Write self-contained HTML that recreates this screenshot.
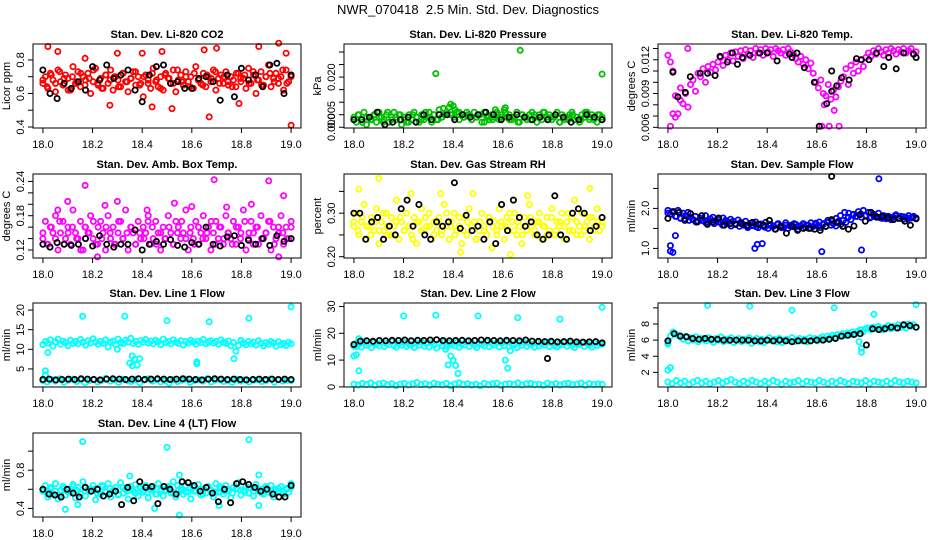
<!DOCTYPE html>
<html><head><meta charset="utf-8"><title>NWR_070418 Diagnostics</title>
<style>
html,body{margin:0;padding:0;background:#fff;}
svg{display:block;font-family:"Liberation Sans",Arial,sans-serif;}
</style></head>
<body>
<svg id="chart" width="936" height="540" viewBox="0 0 936 540" xmlns="http://www.w3.org/2000/svg">
<rect x="0" y="0" width="936" height="540" fill="#fff"/>
<text x="468" y="14" text-anchor="middle" font-size="13" xml:space="preserve">NWR_070418  2.5 Min. Std. Dev. Diagnostics</text>
</svg>
<script>
// ---- shared x axis ----
const xTicks = [18.0, 18.2, 18.4, 18.6, 18.8, 19.0];
const xTickLabels = ["18.0", "18.2", "18.4", "18.6", "18.8", "19.0"];

// ---- Panel 1: CO2 ----
const co2Main = [0.66,0.70,0.63,0.72,0.68,0.61,0.74,0.67,0.65,0.71,0.69,0.62,0.76,0.66,0.73,0.64,0.70,0.68,0.72,0.60,0.67,0.75,0.65,0.69,0.63,0.71,0.66,0.74,0.62,0.70,0.68,0.64,0.72,0.67,0.61,0.69,0.73,0.65,0.70,0.66,0.58,0.71,0.68,0.63,0.75,0.67,0.64,0.70,0.62,0.72,0.69,0.66,0.74,0.61,0.68,0.71,0.65,0.73,0.67,0.70,0.63,0.76,0.68,0.66,0.72,0.64,0.70,0.67,0.74,0.62,0.69,0.71,0.66,0.73,0.65,0.70,0.68,0.64,0.72,0.67,0.69,0.63,0.75,0.66,0.71,0.60,0.68,0.73,0.65,0.70,0.77,0.64,0.69,0.72,0.66,0.70,0.62,0.74,0.67,0.71];
const co2Main2 = [0.68,0.64,0.71,0.66,0.73,0.69,0.62,0.70,0.67,0.72,0.65,0.69,0.74,0.66,0.63,0.71,0.68,0.70,0.64,0.72,0.67,0.69,0.73,0.65,0.70,0.66,0.72,0.68,0.63,0.71,0.69,0.66,0.74,0.67,0.70,0.64,0.72,0.68,0.65,0.71,0.69,0.73,0.66,0.70,0.67,0.64,0.72,0.69,0.71,0.66,0.73,0.68,0.65,0.70,0.72,0.67,0.69,0.74,0.66,0.70];
const co2OutX = [18.02,18.06,18.27,18.44,18.52,18.67,18.87,18.95,19.0,18.48,18.65,18.79,18.70,18.40,18.17,18.30,18.98];
const co2OutY = [0.88,0.85,0.53,0.52,0.51,0.46,0.88,0.90,0.41,0.85,0.86,0.54,0.87,0.84,0.81,0.84,0.84];
const co2Black = [0.74,0.60,0.57,0.66,0.63,0.67,0.62,0.76,0.68,0.77,0.69,0.71,0.74,0.62,0.55,0.71,0.76,0.77,0.66,0.67,0.63,0.63,0.69,0.70,0.67,0.56,0.71,0.58,0.75,0.68,0.71,0.64,0.77,0.78,0.60,0.71];

// ---- Panel 2: Pressure ----
const presMain = [0.004,0.002,0.005,0.003,0.006,0.001,0.004,0.003,0.005,0.002,0.006,0.004,0.003,0.005,0.002,0.004,0.006,0.003,0.005,0.001,0.004,0.002,0.005,0.003,0.006,0.004,0.002,0.005,0.003,0.004,0.006,0.002,0.005,0.003,0.007,0.004,0.005,0.006,0.008,0.005,0.004,0.006,0.003,0.005,0.004,0.006,0.005,0.003,0.006,0.004,0.005,0.002,0.006,0.004,0.003,0.005,0.004,0.006,0.003,0.005,0.007,0.004,0.005,0.003,0.004,0.006,0.002,0.005,0.004,0.003,0.005,0.006,0.004,0.002,0.005,0.003,0.006,0.004,0.005,0.003,0.004,0.006,0.002,0.005,0.003,0.004,0.005,0.006,0.003,0.004,0.002,0.005,0.004,0.006,0.003,0.005,0.004,0.002,0.005,0.003];
const presMain2 = [0.003,0.005,0.002,0.004,0.003,0.005,0.004,0.002,0.006,0.003,0.004,0.005,0.003,0.002,0.005,0.004,0.003,0.006,0.004,0.005,0.003,0.004,0.006,0.005,0.007,0.006,0.004,0.005,0.003,0.004,0.005,0.002,0.004,0.003,0.005,0.004,0.006,0.003,0.004,0.002,0.005,0.004,0.003,0.005,0.004,0.006,0.003,0.004,0.005,0.002,0.004,0.003,0.005,0.004,0.003,0.006,0.004,0.003,0.005,0.004];
const presOutX = [18.33,18.67,19.0,18.39,18.40,18.61,18.57,18.36];
const presOutY = [0.0214,0.0307,0.0212,0.0092,0.0085,0.0078,0.0070,0.0075];
const presBlack = [0.003,0.003,0.004,0.006,0.001,0.002,0.003,0.004,0.002,0.005,0.003,0.005,0.005,0.003,0.005,0.004,0.005,0.006,0.005,0.003,0.004,0.005,0.004,0.003,0.004,0.003,0.005,0.004,0.002,0.003,0.005,0.004,0.003];

// ---- Panel 3: Li-820 Temp ----
const tempMain = [0.0124,0.0118,0.0110,0.0088,0.0072,0.0095,0.0081,0.0090,0.0078,0.0098,0.0102,0.0092,0.0108,0.0105,0.0112,0.0100,0.0114,0.0109,0.0116,0.0111,0.0118,0.0122,0.0115,0.0124,0.0120,0.0126,0.0119,0.0127,0.0123,0.0128,0.0121,0.0129,0.0125,0.0128,0.0122,0.0130,0.0126,0.0129,0.0124,0.0130,0.0127,0.0129,0.0123,0.0130,0.0128,0.0126,0.0129,0.0124,0.0130,0.0127,0.0125,0.0121,0.0118,0.0123,0.0116,0.0120,0.0112,0.0117,0.0108,0.0100,0.0095,0.0102,0.0090,0.0088,0.0098,0.0085,0.0093,0.0087,0.0096,0.0101,0.0105,0.0112,0.0098,0.0115,0.0108,0.0118,0.0110,0.0120,0.0114,0.0122,0.0126,0.0123,0.0128,0.0125,0.0130,0.0127,0.0124,0.0129,0.0126,0.0130,0.0128,0.0125,0.0129,0.0127,0.0130,0.0126,0.0128,0.0130,0.0125,0.0127];
const tempOutX = [18.01,18.02,18.62,18.65,18.69,18.67,18.63,18.08,18.05,18.03];
const tempOutY = [0.0061,0.0072,0.0061,0.0061,0.0061,0.0075,0.0080,0.0130,0.0084,0.0069];
const tempBlackX = [18.02,18.04,18.07,18.09,18.13,18.16,18.19,18.21,18.24,18.26,18.28,18.30,18.33,18.37,18.40,18.44,18.49,18.50,18.52,18.55,18.59,18.61,18.64,18.66,18.66,18.68,18.70,18.73,18.76,18.78,18.81,18.84,18.87,18.89,18.92,18.95,18.99,19.0];
const tempBlackY = [0.0109,0.0087,0.0091,0.0105,0.0108,0.0108,0.0106,0.0123,0.0118,0.0126,0.0116,0.0122,0.0124,0.0126,0.0126,0.0119,0.0125,0.0122,0.0126,0.0113,0.0100,0.0061,0.0081,0.0110,0.0092,0.0097,0.0104,0.0102,0.0121,0.0120,0.0120,0.0126,0.0114,0.0122,0.0112,0.0126,0.0125,0.0122];

// ---- Panel 4: Amb. Box Temp ----
const ambMain = [0.14,0.17,0.13,0.16,0.15,0.18,0.12,0.15,0.17,0.14,0.16,0.13,0.19,0.15,0.14,0.17,0.12,0.16,0.15,0.18,0.14,0.13,0.16,0.17,0.15,0.12,0.18,0.14,0.16,0.13,0.15,0.17,0.14,0.19,0.12,0.16,0.15,0.13,0.17,0.14,0.16,0.15,0.18,0.13,0.14,0.17,0.15,0.12,0.16,0.14,0.18,0.15,0.13,0.17,0.16,0.14,0.15,0.19,0.12,0.16,0.14,0.17,0.13,0.15,0.18,0.14,0.16,0.12,0.15,0.17,0.14,0.16,0.13,0.18,0.15,0.14,0.17,0.13,0.16,0.15,0.19,0.12,0.14,0.17,0.15,0.16,0.13,0.18,0.14,0.15,0.17,0.12,0.16,0.14,0.15,0.18,0.13,0.16,0.14,0.17];
const ambMain2 = [0.15,0.13,0.16,0.14,0.17,0.13,0.15,0.16,0.14,0.12,0.16,0.15,0.17,0.13,0.14,0.16,0.15,0.13,0.17,0.14,0.15,0.16,0.13,0.15,0.14,0.17,0.16,0.13,0.15,0.14,0.16,0.13,0.15,0.17,0.14,0.15,0.13,0.16,0.14,0.15,0.17,0.13,0.16,0.14,0.15,0.13,0.16,0.14,0.17,0.15,0.13,0.16,0.14,0.15,0.17,0.13,0.16,0.15,0.14,0.16];
const ambOutX = [18.17,18.69,18.91,18.22,18.95,18.10,18.30,18.53,18.97,18.60,18.74,18.42,18.06,18.84,18.25];
const ambOutY = [0.233,0.243,0.241,0.108,0.108,0.205,0.205,0.202,0.215,0.196,0.195,0.190,0.190,0.200,0.198];
const ambBlack = [0.130,0.125,0.133,0.130,0.128,0.130,0.140,0.127,0.145,0.130,0.125,0.130,0.130,0.155,0.120,0.130,0.135,0.130,0.138,0.128,0.125,0.133,0.130,0.160,0.130,0.127,0.143,0.145,0.128,0.137,0.130,0.140,0.128,0.145,0.135,0.140];

// ---- Panel 5: Gas Stream RH ----
const rhMain = [0.27,0.30,0.25,0.28,0.32,0.24,0.27,0.29,0.26,0.31,0.23,0.28,0.26,0.30,0.25,0.29,0.27,0.33,0.24,0.28,0.26,0.30,0.27,0.25,0.29,0.23,0.28,0.31,0.26,0.27,0.30,0.24,0.28,0.26,0.29,0.25,0.32,0.27,0.24,0.28,0.30,0.26,0.27,0.23,0.29,0.25,0.31,0.27,0.28,0.24,0.26,0.30,0.27,0.25,0.29,0.22,0.28,0.26,0.31,0.27,0.24,0.29,0.26,0.28,0.30,0.25,0.27,0.23,0.29,0.26,0.32,0.27,0.25,0.28,0.30,0.24,0.27,0.29,0.26,0.31,0.25,0.28,0.27,0.30,0.24,0.28,0.26,0.29,0.33,0.25,0.27,0.30,0.26,0.28,0.24,0.29,0.27,0.31,0.26,0.28];
const rhMain2 = [0.28,0.26,0.29,0.27,0.25,0.28,0.26,0.30,0.27,0.25,0.28,0.29,0.26,0.27,0.24,0.28,0.26,0.29,0.27,0.25,0.28,0.26,0.30,0.27,0.25,0.29,0.26,0.28,0.27,0.24,0.28,0.26,0.29,0.27,0.25,0.28,0.27,0.30,0.26,0.28,0.25,0.27,0.29,0.26,0.28,0.27,0.25,0.29,0.26,0.28,0.27,0.30,0.26,0.28,0.25,0.27,0.29,0.26,0.28,0.27];
const rhOutX = [18.10,18.02,18.95,18.43,18.63,18.35,18.48,18.70,18.23];
const rhOutY = [0.380,0.355,0.357,0.210,0.205,0.345,0.345,0.340,0.345];
const rhBlack = [0.30,0.30,0.24,0.28,0.29,0.24,0.27,0.25,0.31,0.33,0.27,0.32,0.25,0.24,0.28,0.27,0.28,0.37,0.265,0.295,0.26,0.27,0.24,0.28,0.23,0.32,0.26,0.33,0.29,0.27,0.28,0.25,0.24,0.25,0.34,0.25,0.24,0.30,0.31,0.30,0.26,0.27,0.29];

// ---- Panel 6: Sample Flow ----
const flowMain = [1.95,1.85,1.90,1.80,1.95,1.75,1.88,1.82,1.90,1.78,1.72,1.80,1.68,1.75,1.70,1.82,1.65,1.74,1.78,1.69,1.72,1.64,1.76,1.70,1.66,1.73,1.68,1.62,1.71,1.65,1.60,1.68,1.55,1.63,1.58,1.66,1.52,1.61,1.57,1.65,1.50,1.60,1.55,1.48,1.62,1.56,1.52,1.64,1.50,1.58,1.54,1.60,1.48,1.56,1.62,1.52,1.58,1.50,1.55,1.63,1.57,1.52,1.60,1.55,1.65,1.58,1.62,1.56,1.68,1.60,1.70,1.65,1.78,1.72,1.85,1.80,1.92,1.86,1.95,1.82,1.90,1.78,1.85,1.80,1.88,1.76,1.82,1.74,1.80,1.72,1.78,1.84,1.75,1.80,1.73,1.78,1.82,1.76,1.80,1.74];
const flowMain2 = [1.88,1.92,1.80,1.76,1.74,1.70,1.72,1.66,1.70,1.64,1.68,1.62,1.66,1.58,1.62,1.56,1.60,1.55,1.58,1.52,1.57,1.54,1.60,1.53,1.58,1.55,1.60,1.52,1.58,1.56,1.62,1.55,1.60,1.58,1.64,1.60,1.66,1.62,1.70,1.68,1.75,1.82,1.90,1.88,1.84,1.80,1.78,1.82,1.76,1.80,1.78,1.75,1.80,1.77,1.82,1.76,1.79,1.74,1.78,1.76];
const flowOutX = [18.01,18.02,18.03,18.35,18.38,18.62,18.78,18.85,18.01,18.36];
const flowOutY = [1.07,0.90,1.32,1.00,1.12,0.92,0.96,2.74,0.93,1.10];
const flowBlack = [1.75,1.92,1.90,1.70,1.87,1.66,1.82,1.60,1.66,1.76,1.58,1.62,1.60,1.62,1.58,1.65,1.60,1.58,1.70,1.48,1.55,1.38,1.56,1.45,1.50,1.50,1.48,1.45,1.55,1.72,1.65,1.55,1.48,1.56,1.84,1.68,1.90,1.78,1.80,1.76,1.72,1.75,1.68,1.58,1.74];
const flowBlackOutX = [18.66];
const flowBlackOutY = [2.80];

// ---- Panel 7: Line 1 Flow ----
const l1High = [11.2,12.0,11.6,12.4,10.8,11.9,12.6,11.3,12.1,11.7,10.9,12.3,11.5,12.0,11.4,12.5,11.8,11.1,12.2,11.6,12.7,11.9,11.3,12.0,11.5,12.4,10.6,11.8,12.1,11.2,12.6,11.7,11.4,12.3,11.9,12.8,11.5,12.0,11.3,12.2,11.8,12.5,11.6,12.1,11.4,12.3,11.9,11.2,12.6,11.7,12.0,11.4,12.4,11.8,11.5,12.2,11.1,12.0,11.6,12.3,11.9,11.3,12.1,11.7,12.5,11.4,11.9,12.2,11.6,12.0,11.3,12.4,11.8,11.5,12.1,10.9,11.7,9.5,11.0,12.3,11.6,11.2,12.0,11.4,11.8,11.1,12.2,11.5,10.9,11.7,11.3,12.0,11.6,10.8,11.9,11.2,11.5,11.0,11.8,11.4];
const l1Low = [2.0,1.7,2.3,1.9,2.5,1.6,2.1,2.4,1.8,2.2,1.5,2.0,2.3,1.7,2.1,2.6,1.9,2.2,1.6,2.4,2.0,1.8,2.3,1.5,2.1,2.5,1.9,2.2,1.7,2.0,1.4,2.3,1.8,2.1,2.4,1.6,2.0,2.2,1.9,2.5,1.7,2.1,2.3,1.8,2.0,1.6,2.4,1.9,2.2,1.7,2.1,2.3,1.8,2.0,2.4,1.6,2.2,1.9,2.1,2.0];
const l1OutX = [18.01,18.01,18.02,18.16,18.33,18.50,18.67,18.83,19.0,18.35,18.36,18.37,18.38,18.36,18.39,18.62,18.62,18.77,18.30];
const l1OutY = [3.5,4.5,9.2,18.4,18.4,17.3,17.0,17.9,20.8,6.5,5.8,7.5,6.0,8.3,7.6,6.8,6.3,7.6,10.0];
const l1Black = [2.3,2.4,2.2,2.3,2.4,2.3,2.5,2.4,2.3,2.2,2.4,2.5,2.4,2.3,2.4,2.5,2.3,2.4,2.5,2.4,2.3,2.4,2.5,2.4,2.3,2.2,2.4,2.5,2.4,2.3,2.4,2.3,2.2,2.3,2.4,2.3,2.4,2.3,2.4,2.3];

// ---- Panel 8: Line 2 Flow ----
const l2High = [15.2,16.4,15.8,14.9,16.8,15.5,16.1,14.6,16.5,15.9,15.3,16.7,15.0,16.2,15.7,16.9,15.4,14.8,16.3,15.6,16.6,15.1,16.0,15.8,14.7,16.4,15.5,16.8,15.2,16.1,14.9,16.5,15.7,14.5,16.2,15.4,16.7,15.0,16.3,15.8,15.3,16.6,14.8,16.0,15.6,16.9,15.1,16.4,15.5,14.7,16.2,15.9,15.3,16.7,15.0,16.1,15.6,16.5,14.9,16.3,15.4,16.8,15.2,16.0,15.7,14.6,16.4,15.5,16.6,15.1,16.2,15.8,14.8,16.5,15.3,16.0,15.6,16.7,15.0,16.3,15.4,14.9,16.1,15.7,16.6,15.2,16.4,15.5,14.7,16.0,15.8,16.5,15.1,16.2,15.6,14.8,16.3,15.4,16.1,15.9];
const l2Low = [1.0,0.7,1.3,0.9,1.5,0.6,1.1,1.4,0.8,1.2,0.5,1.0,1.3,0.7,1.1,1.6,0.9,1.2,0.6,1.4,1.0,0.8,1.3,0.5,1.1,1.5,0.9,1.2,0.7,1.0,0.4,1.3,0.8,1.1,1.4,0.6,1.0,1.2,0.9,1.5,0.7,1.1,1.3,0.8,1.0,0.6,1.4,0.9,1.2,0.7,1.1,1.3,0.8,1.0,1.4,0.6,1.2,0.9,1.1,1.0];
const l2OutX = [18.00,18.01,18.02,18.01,18.02,18.20,18.33,18.50,18.66,18.83,19.0,18.38,18.39,18.40,18.41,18.42,18.37,18.61,18.62,18.63];
const l2OutY = [11.5,12.0,6.0,15.0,18.0,26.5,26.8,26.5,25.8,25.3,29.7,8.2,11.5,10.0,8.0,5.0,14.0,10.0,7.0,13.5];
const l2Black = [15.8,17.1,17.2,17.0,17.3,17.2,17.4,17.3,17.5,17.2,17.4,17.3,17.5,17.6,17.3,17.2,17.3,17.4,17.2,17.3,17.5,17.4,17.3,17.2,17.4,17.3,17.2,17.5,17.1,17.0,16.9,17.0,16.8,16.9,17.1,16.8,16.7,16.8,16.9,16.4];
const l2BlackOutX = [18.78];
const l2BlackOutY = [10.6];

// ---- Panel 9: Line 3 Flow ----
const l3High = [5.6,6.5,7.0,6.8,6.6,6.4,6.1,6.5,5.9,6.3,6.0,6.4,5.8,6.2,6.1,5.9,6.3,6.0,5.7,6.2,6.0,6.4,5.8,6.1,5.9,6.3,5.7,6.0,6.2,5.8,6.1,5.9,6.3,5.6,6.0,6.2,5.8,6.1,5.7,6.0,6.3,5.9,6.1,5.8,6.2,5.7,6.0,6.1,5.9,6.3,5.8,6.0,6.2,5.9,6.1,5.8,6.3,6.0,6.2,5.9,6.2,6.4,6.1,6.5,6.3,6.6,6.4,6.7,6.5,6.8,6.6,6.9,6.7,7.0,6.8,7.1,7.3,7.0,7.4,7.5,7.3,7.6,7.4,7.7,7.5,7.3,7.6,7.8,7.4,7.7,7.5,7.9,7.6,7.8,7.5,8.0,7.7,7.9,7.6];
const l3Low = [0.8,0.6,1.0,0.7,0.9,0.5,0.8,1.0,0.7,0.9,0.6,0.8,1.0,0.7,0.9,1.1,0.8,0.6,0.9,0.7,1.0,0.8,0.6,0.9,0.7,1.0,0.8,0.5,0.9,0.7,0.8,1.0,0.6,0.9,0.8,0.7,1.0,0.8,0.6,0.9,0.7,1.0,0.8,0.6,0.9,0.8,0.7,1.0,0.6,0.9,0.8,0.7,0.9,0.6,1.0,0.8,0.7,0.9,0.8,0.7];
const l3OutX = [18.00,18.01,18.00,18.16,18.33,18.50,18.67,18.83,19.0,18.77,18.78,18.78];
const l3OutY = [2.3,2.6,5.5,10.3,10.2,9.7,10.0,9.2,10.4,5.8,4.5,5.0];
const l3Black = [5.9,6.8,6.5,6.4,6.2,6.1,6.2,6.1,6.1,6.0,6.0,6.0,6.0,6.0,5.9,5.9,6.0,5.9,6.0,5.9,5.8,5.9,5.9,5.9,6.0,6.0,6.1,6.2,6.5,6.6,6.7,6.8,5.4,7.4,7.3,7.4,7.6,7.5,7.9,7.8,7.6];

// ---- Panel 10: Line 4 (LT) Flow ----
const l4Main = [0.58,0.64,0.52,0.61,0.55,0.66,0.50,0.59,0.63,0.54,0.60,0.57,0.65,0.51,0.62,0.56,0.68,0.53,0.60,0.58,0.64,0.49,0.61,0.55,0.63,0.57,0.66,0.52,0.59,0.62,0.54,0.67,0.56,0.60,0.50,0.63,0.58,0.65,0.53,0.61,0.57,0.64,0.51,0.59,0.62,0.55,0.66,0.58,0.53,0.60,0.63,0.56,0.68,0.52,0.59,0.61,0.55,0.64,0.57,0.50,0.62,0.58,0.65,0.54,0.60,0.56,0.63,0.59,0.52,0.66,0.57,0.61,0.55,0.64,0.58,0.51,0.62,0.60,0.67,0.54,0.59,0.63,0.56,0.61,0.53,0.65,0.58,0.60,0.55,0.62,0.57,0.64,0.52,0.60,0.58,0.63,0.55,0.61,0.57,0.66];
const l4Main2 = [0.60,0.56,0.62,0.58,0.54,0.61,0.57,0.63,0.59,0.55,0.62,0.58,0.60,0.56,0.64,0.57,0.61,0.59,0.55,0.62,0.58,0.60,0.56,0.63,0.59,0.57,0.61,0.55,0.60,0.58,0.62,0.56,0.64,0.59,0.57,0.61,0.58,0.60,0.55,0.62,0.59,0.57,0.63,0.58,0.60,0.56,0.61,0.59,0.57,0.62,0.58,0.60,0.56,0.63,0.59,0.57,0.61,0.58,0.60,0.62];
const l4OutX = [18.16,18.50,18.83,18.09,18.45,18.55,18.87,18.35,18.55,18.87,18.14,18.71];
const l4OutY = [1.10,1.04,1.12,0.39,0.40,0.33,0.43,0.74,0.75,0.75,0.44,0.43];
const l4Black = [0.60,0.55,0.54,0.52,0.60,0.56,0.52,0.62,0.58,0.60,0.53,0.55,0.58,0.44,0.62,0.48,0.68,0.62,0.63,0.45,0.63,0.60,0.55,0.68,0.67,0.64,0.58,0.62,0.56,0.47,0.60,0.46,0.66,0.68,0.65,0.62,0.58,0.60,0.55,0.52,0.52,0.64];

// ---- layout (not data) ----
const XMIN = 17.96, XMAX = 19.04;
const colLeft = [33, 344, 658];
const rowTop = [44, 174, 303, 433];
const BOXW = 268, BOXH = 84;

const panels = [
 {name:'co2', title:'Stan. Dev. Li-820 CO2', ylab:'Licor ppm', col:0,row:0, ymin:0.394, ymax:0.895, color:'#ff0000',
  yt:[0.4,0.5,0.6,0.7,0.8], yl:['0.4','','0.6','','0.8'], series:[co2Main,co2Main2], outX:co2OutX, outY:co2OutY, black:co2Black},
 {name:'pressure', title:'Stan. Dev. Li-820 Pressure', ylab:'kPa', col:1,row:0, ymin:-0.0003, ymax:0.0332, color:'#00c000',
  yt:[0,0.005,0.010,0.015,0.020,0.025,0.030], yl:['0.000','0.005','','','0.020','',''], series:[presMain,presMain2], outX:presOutX, outY:presOutY, black:presBlack},
 {name:'li820-temp', title:'Stan. Dev. Li-820 Temp.', ylab:'degrees C', col:2,row:0, ymin:0.00594, ymax:0.0134, color:'#ff00ff',
  yt:[0.006,0.007,0.008,0.009,0.010,0.011,0.012,0.013], yl:['0.006','','','0.009','','','0.012',''], series:[tempMain], outX:tempOutX, outY:tempOutY, blackX:tempBlackX, blackY:tempBlackY},
 {name:'amb-box-temp', title:'Stan. Dev. Amb. Box Temp.', ylab:'degrees C', col:0,row:1, ymin:0.106, ymax:0.253, color:'#ff00ff',
  yt:[0.12,0.14,0.16,0.18,0.20,0.22,0.24], yl:['0.12','','','0.18','','','0.24'], series:[ambMain,ambMain2], outX:ambOutX, outY:ambOutY, black:ambBlack},
 {name:'gas-stream-rh', title:'Stan. Dev. Gas Stream RH', ylab:'percent', col:1,row:1, ymin:0.197, ymax:0.390, color:'#ffff00',
  yt:[0.20,0.25,0.30,0.35], yl:['0.20','','0.30',''], series:[rhMain,rhMain2], outX:rhOutX, outY:rhOutY, black:rhBlack},
 {name:'sample-flow', title:'Stan. Dev. Sample Flow', ylab:'ml/min', col:2,row:1, ymin:0.76, ymax:2.86, color:'#0000ff',
  yt:[1.0,1.5,2.0,2.5], yl:['1.0','','2.0',''], series:[flowMain,flowMain2], outX:flowOutX, outY:flowOutY, black:flowBlack, bOutX:flowBlackOutX, bOutY:flowBlackOutY},
 {name:'line1-flow', title:'Stan. Dev. Line 1 Flow', ylab:'ml/min', col:0,row:2, ymin:0.4, ymax:21.8, color:'#00ffff',
  yt:[5,10,15,20], yl:['5','10','15','20'], series:[l1High,l1Low], outX:l1OutX, outY:l1OutY, black:l1Black},
 {name:'line2-flow', title:'Stan. Dev. Line 2 Flow', ylab:'ml/min', col:1,row:2, ymin:-0.04, ymax:31.3, color:'#00ffff',
  yt:[0,10,20,30], yl:['0','10','20','30'], series:[l2High,l2Low], outX:l2OutX, outY:l2OutY, black:l2Black, bOutX:l2BlackOutX, bOutY:l2BlackOutY},
 {name:'line3-flow', title:'Stan. Dev. Line 3 Flow', ylab:'ml/min', col:2,row:2, ymin:0.19, ymax:10.6, color:'#00ffff',
  yt:[2,4,6,8,10], yl:['2','4','6','8',''], series:[l3High,l3Low], outX:l3OutX, outY:l3OutY, black:l3Black},
 {name:'line4-flow', title:'Stan. Dev. Line 4 (LT) Flow', ylab:'ml/min', col:0,row:3, ymin:0.31, ymax:1.19, color:'#00ffff',
  yt:[0.4,0.6,0.8,1.0], yl:['0.4','','0.8',''], series:[l4Main,l4Main2], outX:l4OutX, outY:l4OutY, black:l4Black}
];

const NS = 'http://www.w3.org/2000/svg';
const svg = document.getElementById('chart');
function mk(tag, attrs, parent){
  const e = document.createElementNS(NS, tag);
  for (const k in attrs) e.setAttribute(k, attrs[k]);
  parent.appendChild(e);
  return e;
}
function linX(n, i){ return n > 1 ? 18.0 + i/(n-1) : 18.5; }

panels.forEach(p => {
  const L = colLeft[p.col], T = rowTop[p.row], B = T + BOXH, R = L + BOXW;
  const sx = v => L + (v - XMIN) / (XMAX - XMIN) * BOXW;
  const sy = v => B - (v - p.ymin) / (p.ymax - p.ymin) * BOXH;
  const g = mk('g', {}, svg);
  
  

  const t = mk('text', {x:(L+R)/2, y:T-6, 'text-anchor':'middle', 'font-size':'11', 'font-weight':'bold'}, g);
  t.textContent = p.title;
  
  

  const dots = mk('g', {fill:'none', 'stroke-width':'1.8'}, g);
  
  
  function pt(x, y, col){
    const c = mk('circle', {cx:sx(x).toFixed(1), cy:sy(y).toFixed(1), r:'2.6', stroke:col}, dots);
    
    
  }
  p.series.forEach(s => s.forEach((v, i) => pt(linX(s.length, i), v, p.color)));
  p.outX.forEach((x, i) => pt(x, p.outY[i], p.color));
  if (p.black) p.black.forEach((v, i) => pt(linX(p.black.length, i), v, '#000'));
  if (p.blackX) p.blackX.forEach((x, i) => pt(x, p.blackY[i], '#000'));
  if (p.bOutX) p.bOutX.forEach((x, i) => pt(x, p.bOutY[i], '#000'));

  const box = mk('rect', {x:L, y:T, width:BOXW, height:BOXH, fill:'none', stroke:'#000', 'stroke-width':'1'}, g);
  
  

  const xa = mk('g', {stroke:'#000', 'stroke-width':'1'}, g);
  
  
  mk('line', {x1:sx(xTicks[0]), y1:B, x2:sx(xTicks[xTicks.length-1]), y2:B}, xa);
  xTicks.forEach((v, i) => {
    mk('line', {x1:sx(v), y1:B, x2:sx(v), y2:B+5}, xa);
    const tl = mk('text', {x:sx(v), y:B+20, 'text-anchor':'middle', 'font-size':'11', stroke:'none', fill:'#000'}, xa);
    tl.textContent = xTickLabels[i];
    
    
  });

  const ya = mk('g', {stroke:'#000', 'stroke-width':'1'}, g);
  
  
  mk('line', {x1:L, y1:sy(p.yt[0]), x2:L, y2:sy(p.yt[p.yt.length-1])}, ya);
  p.yt.forEach((v, i) => {
    const y = sy(v);
    mk('line', {x1:L-5, y1:y, x2:L, y2:y}, ya);
    if (p.yl[i]) {
      const tl = mk('text', {x:L-9, y:y, 'text-anchor':'middle', 'font-size':'11', stroke:'none', fill:'#000', transform:'rotate(-90 '+(L-9)+' '+y+')'}, ya);
      tl.textContent = p.yl[i];
      
      
    }
  });
  const cy = (T + B) / 2;
  const yl = mk('text', {x:L-23, y:cy, 'text-anchor':'middle', 'font-size':'11', transform:'rotate(-90 '+(L-23)+' '+cy+')'}, g);
  yl.textContent = p.ylab;
  
  
});
</script>
</body></html>
